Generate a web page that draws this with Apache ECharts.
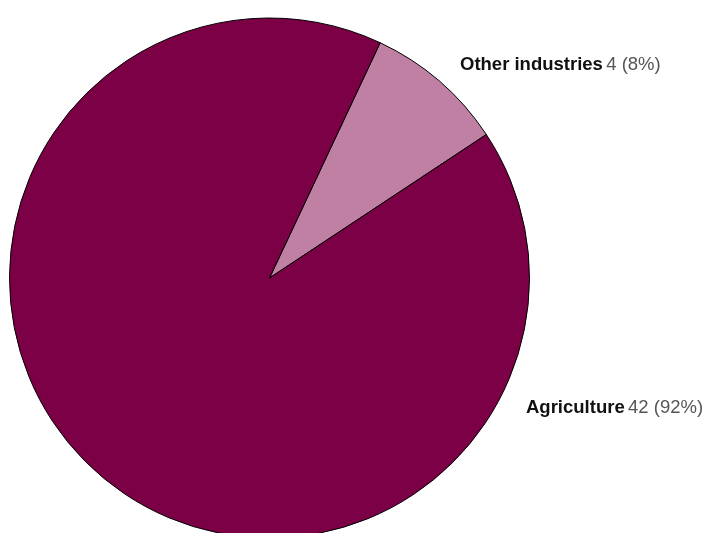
<!DOCTYPE html>
<html>
<head>
<meta charset="utf-8">
<script src="https://cdn.jsdelivr.net/npm/echarts@6/dist/echarts.min.js"></script>
<style>
  html, body { margin: 0; padding: 0; background: #ffffff; }
  #chart { width: 713px; height: 533px; }
</style>
</head>
<body>
<div id="chart"></div>
<script>
// Employment by industry
const categories = ['Other industries', 'Agriculture'];
const values = [4, 42];
const shareLabels = ['8%', '92%'];
const sliceColors = ['#bf80a3', '#7b0045'];

// Where each label's left edge / vertical middle sits
const labelSpots = [
  { x: 460, y: 65 },
  { x: 526, y: 408 }
];

const chart = echarts.init(document.getElementById('chart'), null, { renderer: 'canvas' });

chart.setOption({
  animation: false,
  backgroundColor: '#ffffff',
  series: [{
    type: 'pie',
    center: [269.5, 278],
    radius: [0, 260],
    startAngle: 64.8,
    clockwise: true,
    avoidLabelOverlap: false,
    itemStyle: { borderColor: '#000000', borderWidth: 1 },
    emphasis: { disabled: true },
    labelLine: { show: false },
    label: {
      show: true,
      position: 'outside',
      formatter: function (p) {
        return '{b|' + p.name + '} {v|' + p.value + ' (' + shareLabels[p.dataIndex] + ')}';
      },
      rich: {
        b: { fontFamily: 'Liberation Sans', fontWeight: 'bold', fontSize: 18.5, color: '#111111' },
        v: { fontFamily: 'Liberation Sans', fontWeight: 'normal', fontSize: 18.5, color: '#555555' }
      }
    },
    labelLayout: function (params) {
      const s = labelSpots[params.dataIndex];
      return { x: s.x, y: s.y, align: 'left', verticalAlign: 'middle', hideOverlap: false };
    },
    data: categories.map(function (c, i) {
      return { name: c, value: values[i], itemStyle: { color: sliceColors[i] } };
    })
  }]
});
</script>
</body>
</html>
